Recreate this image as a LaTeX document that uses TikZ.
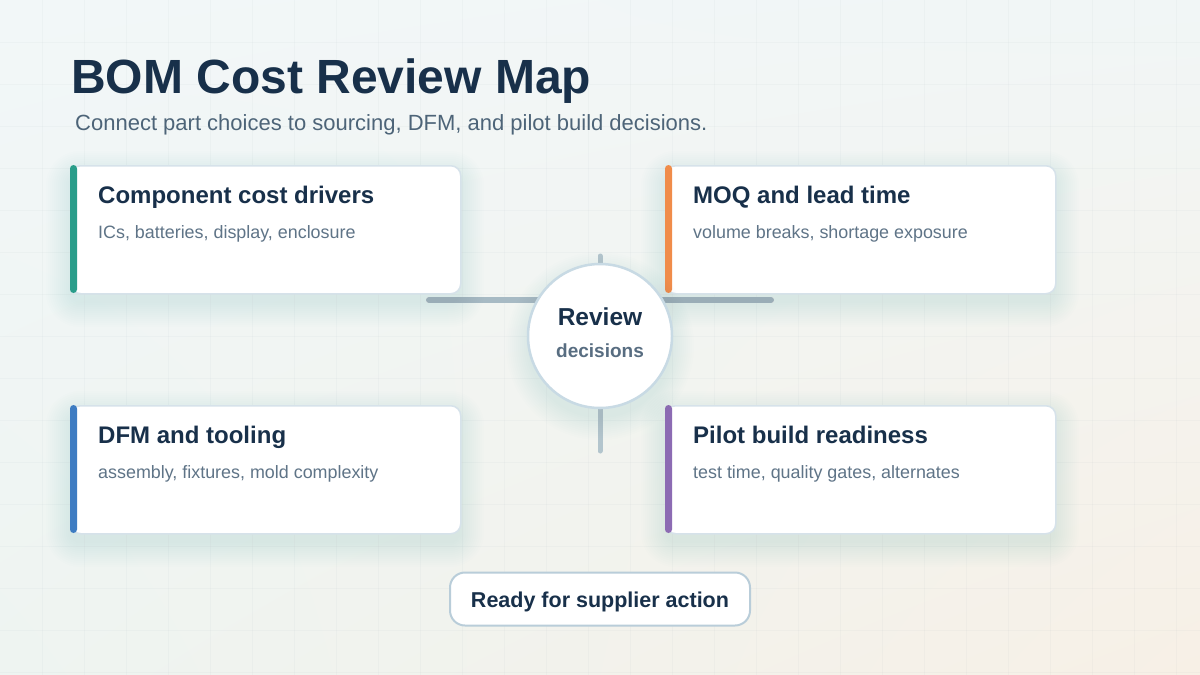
\documentclass[tikz,border=0pt]{standalone}
\usepackage{fontspec}
\setmainfont{Liberation Sans}
\usetikzlibrary{calc,shadings}
\definecolor{navy}{HTML}{18304A}
\definecolor{subtxt}{HTML}{4D6478}
\definecolor{desctxt}{HTML}{5F7487}
\definecolor{cardline}{HTML}{D6E2EA}
\definecolor{hubline}{HTML}{C8DAE4}
\definecolor{pillline}{HTML}{B9CDD9}
\definecolor{conncol}{HTML}{A7BAC4}
\definecolor{conncolv}{HTML}{B3C5CD}
\definecolor{teal}{HTML}{2A9D8A}
\definecolor{orng}{HTML}{F08C4A}
\definecolor{blu}{HTML}{3E7CC2}
\definecolor{purp}{HTML}{8C6BB3}
\definecolor{shad}{HTML}{5A7A8C}
\definecolor{bgul}{HTML}{F2F7F8}
\definecolor{bgur}{HTML}{F1F6F6}
\definecolor{bgll}{HTML}{EEF4F1}
\definecolor{bglr}{HTML}{F7F0E6}
\newcommand\softshadow[5]{%
  \foreach \i in {0,2,...,24}{%
    \fill[shad, opacity=0.009, rounded corners={#5+\i}] (#1-\i,#2-\i+10) rectangle (#3+\i,#4+\i+10);}}
\tikzset{
  cardbox/.style={draw=cardline, line width=1.5pt, fill=white, rounded corners=10pt,
    anchor=north west, minimum width=390pt, minimum height=128pt, inner sep=0pt},
  cardtitle/.style={anchor=base west, inner sep=0pt, text=navy, font=\fontsize{24}{28}\selectfont\bfseries},
  carddesc/.style={anchor=base west, inner sep=0pt, text=desctxt, font=\fontsize{17.9}{21}\selectfont},
  conn/.style={line width=6pt, line cap=round, draw=conncol},
  connv/.style={line width=5pt, line cap=round, draw=conncolv},
}
\newcommand\card[6]{%
  \softshadow{#2}{#3}{#2+390}{#3+128}{10}
  \node[cardbox] (#1) at (#2,#3) {};
  \fill[#4, rounded corners=3.5pt] (#2,#3) rectangle (#2+7,#3+128);
  \node[cardtitle] (#1t) at ($(#1.north west)+(28,38)$) {#5};
  \node[carddesc] (#1d) at ($(#1.north west)+(28,73)$) {#6};
}
\begin{document}
\begin{tikzpicture}[x=1pt,y=-1pt]
\useasboundingbox (0,0) rectangle (1200,675);
\shade[upper left=bgul, upper right=bgur, lower left=bgll, lower right=bglr] (0,0) rectangle (1200,675);
\foreach \g in {42,84,...,1200}{\draw[navy, opacity=0.022, line width=0.8pt] (\g,0) -- (\g,675);}
\foreach \g in {42,84,...,675}{\draw[navy, opacity=0.022, line width=0.8pt] (0,\g) -- (1200,\g);}

\node[anchor=base west, inner sep=0pt, text=navy, font=\fontsize{48}{56}\selectfont\bfseries] (title) at (71,93) {BOM Cost Review Map};
\node[anchor=base west, inner sep=0pt, text=subtxt, font=\fontsize{22}{26}\selectfont] (sub) at (75,130) {Connect part choices to sourcing, DFM, and pilot build decisions.};

% connectors
\coordinate (hl) at (429,300);
\coordinate (hr) at (771,300);
\coordinate (vt) at (600,256);
\coordinate (vb) at (600,451);
\draw[conn] (hl) -- (hr);
\draw[connv] (vt) -- (vb);

\card{c1}{70}{165}{teal}{Component cost drivers}{ICs, batteries, display, enclosure}
\card{c2}{665}{165}{orng}{MOQ and lead time}{volume breaks, shortage exposure}
\card{c3}{70}{405}{blu}{DFM and tooling}{assembly, fixtures, mold complexity}
\card{c4}{665}{405}{purp}{Pilot build readiness}{test time, quality gates, alternates}

% center
\foreach \i in {0,2,...,22}{\fill[shad, opacity=0.009] (600,346) circle ({72+\i});}
\node[circle, draw=hubline, line width=2.5pt, fill=white, minimum size=144pt, inner sep=0pt] (hub) at (600,336) {};
\node[anchor=base, inner sep=0pt, text=navy, font=\fontsize{24.5}{28}\selectfont\bfseries] (hubt) at (600,325) {Review};
\node[anchor=base, inner sep=0pt, text=desctxt!90!navy, font=\fontsize{19}{22}\selectfont\bfseries] (hubd) at (600,357) {decisions};

% bottom pill
\node[draw=pillline, line width=2pt, fill=white, rounded corners=15pt, minimum width=300pt, minimum height=53pt, inner sep=0pt] (pill) at (600,599) {};
\node[anchor=base, inner sep=0pt, text=navy, font=\fontsize{21.5}{25}\selectfont\bfseries] (pillt) at (600,607) {Ready for supplier action};
\end{tikzpicture}
\end{document}
